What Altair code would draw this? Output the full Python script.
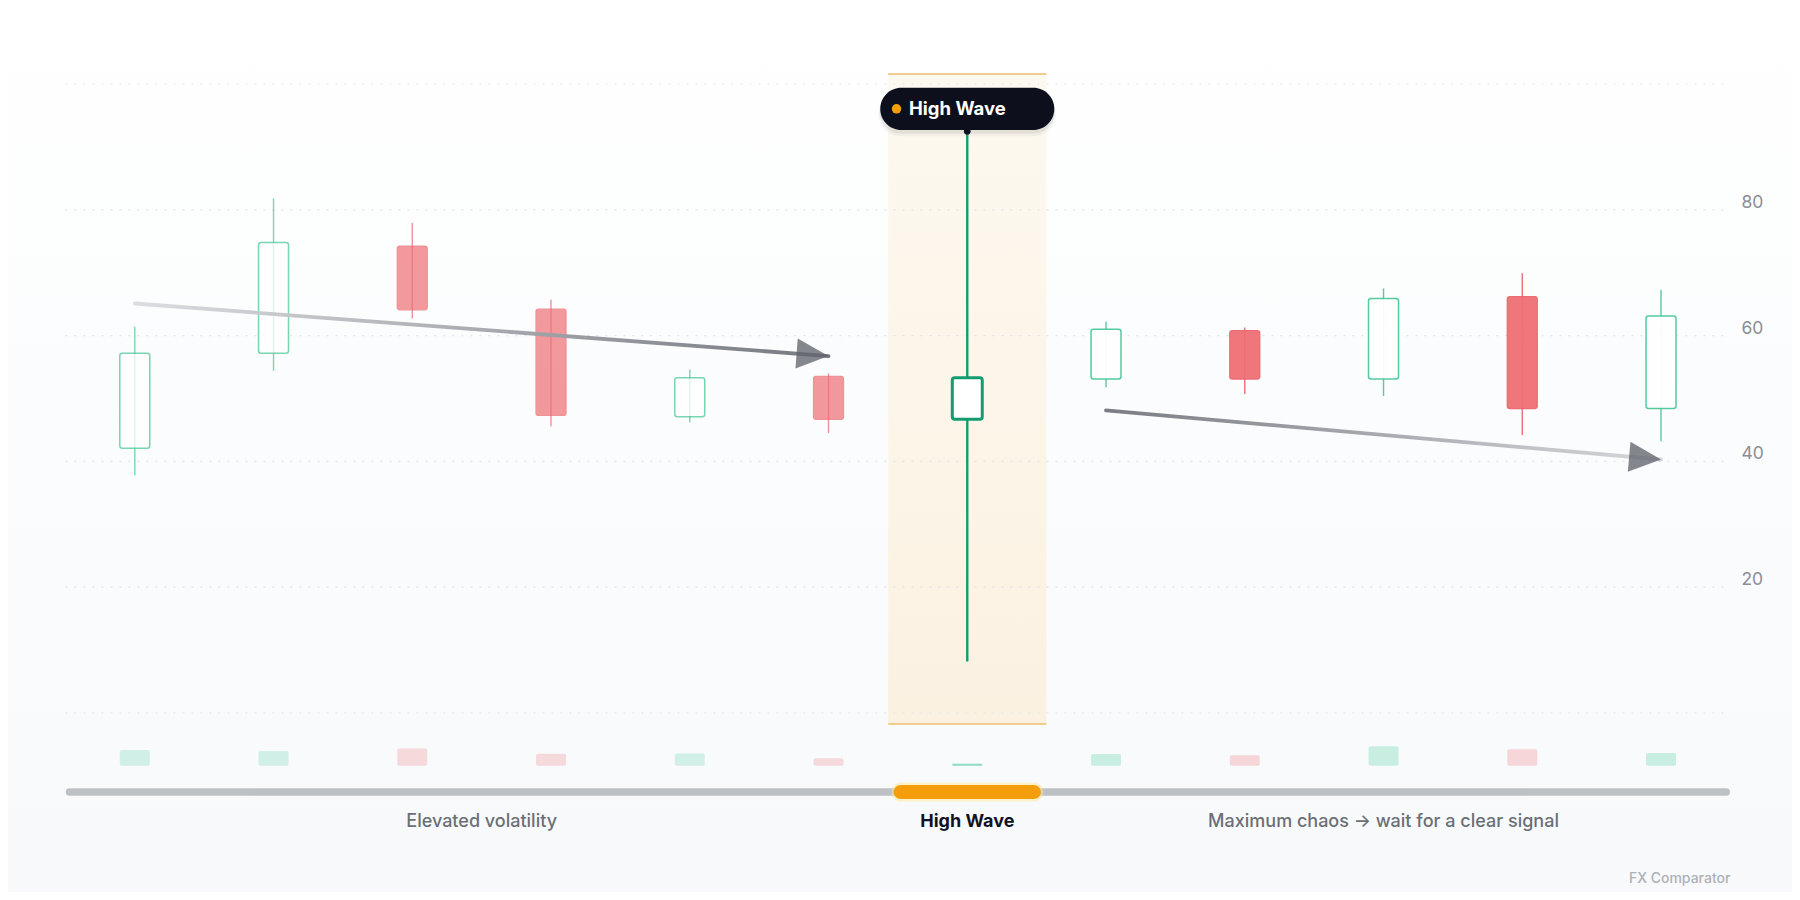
import math
import pandas as pd
import altair as alt

# ---------------- data ----------------
idx = list(range(12))
opens = [42.1, 57.2, 74.2, 64.2, 47.1, 53.5, 46.7, 53.1, 60.8, 53.1, 66.2, 48.4]
closes = [57.2, 74.8, 64.1, 47.3, 53.3, 46.7, 53.3, 61.0, 53.1, 65.9, 48.4, 63.1]
highs = [61.4, 81.8, 77.9, 65.7, 54.6, 54.0, 92.4, 62.2, 61.3, 67.5, 69.9, 67.3]
lows = [37.8, 54.4, 62.7, 45.6, 46.2, 44.5, 8.2, 51.8, 50.7, 50.4, 44.2, 43.2]
volumes = [2.5, 2.35, 2.75, 1.9, 1.95, 1.2, 0.32, 1.85, 1.65, 3.1, 2.6, 2.0]
highlight_index = 6

grid_values = [0, 20, 40, 60, 80, 100]
tick_labels = ["80", "60", "40", "20"]
tick_values = [80, 60, 40, 20]

arrow_x0 = [0, 7]
arrow_y0 = [65.1, 48.1]
arrow_x1 = [5, 11]
arrow_y1 = [56.75, 40.3]

phase_labels = ["Elevated volatility", "High Wave", "Maximum chaos \u2192 wait for a clear signal"]
phase_centers = [2.5, 6, 9]
pattern_name = "High Wave"
brand = "FX Comparator"

# ---------------- layout constants ----------------
W, H = 1784, 884
XMIN, XMAX = -0.9137, 11.944
YMIN, YMAX = -28.46, 112.08
PX_X = W / (XMAX - XMIN)
PX_Y = H / (YMAX - YMIN)
HALF = 0.108          # half body width in index units
VBASE = -8.38         # volume baseline
TL_Y = -12.56         # timeline
LABEL_Y = -17.3
FONT = "Inter"

xs = alt.Scale(domain=[XMIN, XMAX], nice=False, zero=False)
ys = alt.Scale(domain=[YMIN, YMAX], nice=False, zero=False)


def X(f):
    return alt.X(f, type="quantitative", scale=xs, axis=None)


def Y(f):
    return alt.Y(f, type="quantitative", scale=ys, axis=None)


def X2(f):
    return alt.X2(f)


def Y2(f):
    return alt.Y2(f)


# ---------------- tables ----------------
rows = []
for i, o, c, h, l, v in zip(idx, opens, closes, highs, lows, volumes):
    up = c >= o
    late = i > highlight_index
    if i == highlight_index:
        stroke, fill, sw, wsw, op = "#139c70", "#ffffff", 3.0, 2.4, 1.0
    elif up:
        stroke, fill, sw, wsw, op = "#4cc99a", "#ffffff", 1.5, 1.4, (0.95 if late else 0.75)
    else:
        stroke, fill, sw, wsw, op = "#ea676d", "#ef6f75", 1.3, 1.4, (0.95 if late else 0.7)
    rows.append(dict(
        i=i, xl=i - HALF, xr=i + HALF,
        lo=min(o, c), hi=max(o, c), high=h, low=l,
        stroke=stroke, fill=fill, sw=sw, wsw=wsw, op=op,
        vb=VBASE, vt=VBASE + v,
        vcol=("#34c38f" if up else "#ef6f75"),
        vop=(0.55 if i == highlight_index else (0.24 if late else 0.2) if up else (0.26 if late else 0.24)),
    ))
cdf = pd.DataFrame(rows)

bg = alt.Chart(pd.DataFrame([dict(a=XMIN, b=XMAX, c=YMIN, d=YMAX)])).mark_rect(
    fill={"gradient": "linear", "x1": 0, "y1": 0, "x2": 0, "y2": 1,
          "stops": [{"offset": 0, "color": "#ffffff"}, {"offset": 1, "color": "#f7f9fb"}]}
).encode(x=X("a"), x2=X2("b"), y=Y("c"), y2=Y2("d"))

band_df = pd.DataFrame([dict(a=highlight_index - 0.57, b=highlight_index + 0.57, top=101.6, bot=-1.75)])
band = alt.Chart(band_df).mark_rect(
    fill={"gradient": "linear", "x1": 0, "y1": 0, "x2": 0, "y2": 1,
          "stops": [{"offset": 0, "color": "#fdf9f0"}, {"offset": 1, "color": "#fbf1e1"}]}
).encode(x=X("a"), x2=X2("b"), y=Y("bot"), y2=Y2("top"))

band_lines_df = pd.DataFrame([
    dict(a=highlight_index - 0.57, b=highlight_index + 0.57, y=101.6),
    dict(a=highlight_index - 0.57, b=highlight_index + 0.57, y=-1.75),
])
band_lines = alt.Chart(band_lines_df).mark_rule(color="#f0cc8f", strokeWidth=2).encode(
    x=X("a"), x2=X2("b"), y=Y("y"))

grid_df = pd.DataFrame(dict(y=grid_values, a=[-0.5] * len(grid_values), b=[11.5] * len(grid_values)))
grid = alt.Chart(grid_df).mark_rule(color="#e2e4e8", strokeWidth=1.2, strokeDash=[2, 7]).encode(
    x=X("a"), x2=X2("b"), y=Y("y"))

tick_df = pd.DataFrame(dict(y=tick_values, t=tick_labels, x=[11.5] * len(tick_values)))
ticks = alt.Chart(tick_df).mark_text(
    align="left", baseline="alphabetic", dx=11, dy=-2, fontSize=17.5, color="#8b8e94", font=FONT
).encode(x=X("x"), y=Y("y"), text="t:N")

vol = alt.Chart(cdf).mark_rect(cornerRadius=2).encode(
    x=X("xl"), x2=X2("xr"), y=Y("vb"), y2=Y2("vt"),
    color=alt.Color("vcol:N", scale=None), opacity=alt.Opacity("vop:Q", scale=None))

tl_df = pd.DataFrame([dict(a=-0.47, b=11.47, y=TL_Y)])
tl_gray = alt.Chart(tl_df).mark_rule(color="#bec1c4", strokeWidth=7.5, strokeCap="round").encode(
    x=X("a"), x2=X2("b"), y=Y("y"))
tlo_df = pd.DataFrame([dict(a=highlight_index - 0.48, b=highlight_index + 0.48, y=TL_Y)])
tl_glow = alt.Chart(tlo_df).mark_rule(color="#fde68a", strokeWidth=19, strokeCap="round", opacity=0.45).encode(
    x=X("a"), x2=X2("b"), y=Y("y"))
tl_orange = alt.Chart(tlo_df).mark_rule(color="#f59e0b", strokeWidth=14, strokeCap="round").encode(
    x=X("a"), x2=X2("b"), y=Y("y"))

lab_df = pd.DataFrame(dict(x=phase_centers, y=[LABEL_Y] * 3, t=phase_labels,
                           c=["#6b6f76", "#111322", "#6b6f76"], w=["normal", "bold", "normal"]))
labels_norm = alt.Chart(lab_df[lab_df.w == "normal"]).mark_text(
    fontSize=18, fontWeight=500, font=FONT, baseline="middle", align="center"
).encode(x=X("x"), y=Y("y"), text="t:N", color=alt.Color("c:N", scale=None))
labels_bold = alt.Chart(lab_df[lab_df.w == "bold"]).mark_text(
    fontSize=18, fontWeight=700, font=FONT, baseline="middle", align="center"
).encode(x=X("x"), y=Y("y"), text="t:N", color=alt.Color("c:N", scale=None))

wicks = alt.Chart(cdf).mark_rule().encode(
    x=X("i"), y=Y("low"), y2=Y2("high"),
    color=alt.Color("stroke:N", scale=None), opacity=alt.Opacity("op:Q", scale=None),
    strokeWidth=alt.StrokeWidth("wsw:Q", scale=None))

bodies = alt.Chart(cdf).mark_rect(cornerRadius=2.5).encode(
    x=X("xl"), x2=X2("xr"), y=Y("lo"), y2=Y2("hi"),
    fill=alt.Fill("fill:N", scale=None), stroke=alt.Stroke("stroke:N", scale=None),
    opacity=alt.Opacity("op:Q", scale=None), strokeWidth=alt.StrokeWidth("sw:Q", scale=None))

# arrows
arrow_layers = []
grads = [
    [{"offset": 0, "color": "#dcdde0"}, {"offset": 1, "color": "#75787f"}],
    [{"offset": 0, "color": "#7a7d83"}, {"offset": 1, "color": "#d6d8db"}],
]
head_rows = []
for k in range(2):
    ldf = pd.DataFrame(dict(x=[arrow_x0[k], arrow_x1[k]], y=[arrow_y0[k], arrow_y1[k]]))
    arrow_layers.append(alt.Chart(ldf).mark_line(
        strokeWidth=3.8, strokeCap="round",
        stroke={"gradient": "linear", "x1": 0, "y1": 0, "x2": 1, "y2": 0, "stops": grads[k]}
    ).encode(x=X("x"), y=Y("y"), order="x:Q"))
    ang = math.degrees(math.atan2((arrow_y0[k] - arrow_y1[k]) * PX_Y, (arrow_x1[k] - arrow_x0[k]) * PX_X))
    head_rows.append(dict(x=arrow_x1[k], y=arrow_y1[k], ang=ang))
heads = alt.Chart(pd.DataFrame(head_rows)).mark_point(
    shape="M0,0L-2,-0.94L-2,0.94Z", size=1024, filled=True, color="#62656d", opacity=0.78, strokeWidth=0
).encode(x=X("x"), y=Y("y"), angle=alt.Angle("ang:Q", scale=None))

# pill callout
pill_df = pd.DataFrame([dict(a=highlight_index - 0.627, b=highlight_index + 0.627, bot=92.7, top=99.4)])
shadow_df = pd.DataFrame([dict(a=highlight_index - 0.632, b=highlight_index + 0.632, bot=92.1, top=98.9)])
shadow2_df = pd.DataFrame([dict(a=highlight_index - 0.64, b=highlight_index + 0.64, bot=91.7, top=98.6)])
pill_shadow2 = alt.Chart(shadow2_df).mark_rect(cornerRadius=24, color="#0e0f1c", opacity=0.04).encode(
    x=X("a"), x2=X2("b"), y=Y("bot"), y2=Y2("top"))
pill_shadow = alt.Chart(shadow_df).mark_rect(cornerRadius=22, color="#0e0f1c", opacity=0.07).encode(
    x=X("a"), x2=X2("b"), y=Y("bot"), y2=Y2("top"))
pill = alt.Chart(pill_df).mark_rect(cornerRadius=21, color="#0e0f1c").encode(
    x=X("a"), x2=X2("b"), y=Y("bot"), y2=Y2("top"))
dot = alt.Chart(pd.DataFrame([dict(x=5.49, y=96.05)])).mark_point(
    shape="circle", size=90, filled=True, color="#f59e0b", opacity=1).encode(x=X("x"), y=Y("y"))
pill_text = alt.Chart(pd.DataFrame([dict(x=5.58, y=96.05, t=pattern_name)])).mark_text(
    align="left", baseline="middle", fontSize=18.5, fontWeight=700, color="#ffffff", font=FONT
).encode(x=X("x"), y=Y("y"), text="t:N")
conn = alt.Chart(pd.DataFrame([dict(x=highlight_index, y=92.5)])).mark_point(
    shape="circle", size=45, filled=True, color="#0e0f1c", opacity=1).encode(x=X("x"), y=Y("y"))

brand_t = alt.Chart(pd.DataFrame([dict(x=11.5, y=-26.4, t=brand)])).mark_text(
    align="right", baseline="middle", fontSize=14, fontWeight=500, color="#aeb1b6", font=FONT
).encode(x=X("x"), y=Y("y"), text="t:N")

chart = alt.layer(
    bg, band, grid, band_lines, ticks, vol, tl_gray, tl_glow, tl_orange,
    labels_norm, labels_bold, wicks, bodies, *arrow_layers, heads,
    pill_shadow2, pill_shadow, pill, dot, pill_text, conn, brand_t
).properties(
    width=W, height=H, padding=0, autosize="none", background="#ffffff"
).configure_view(strokeWidth=0)

chart.save("out.html", embed_options={"renderer": "svg", "actions": False})
